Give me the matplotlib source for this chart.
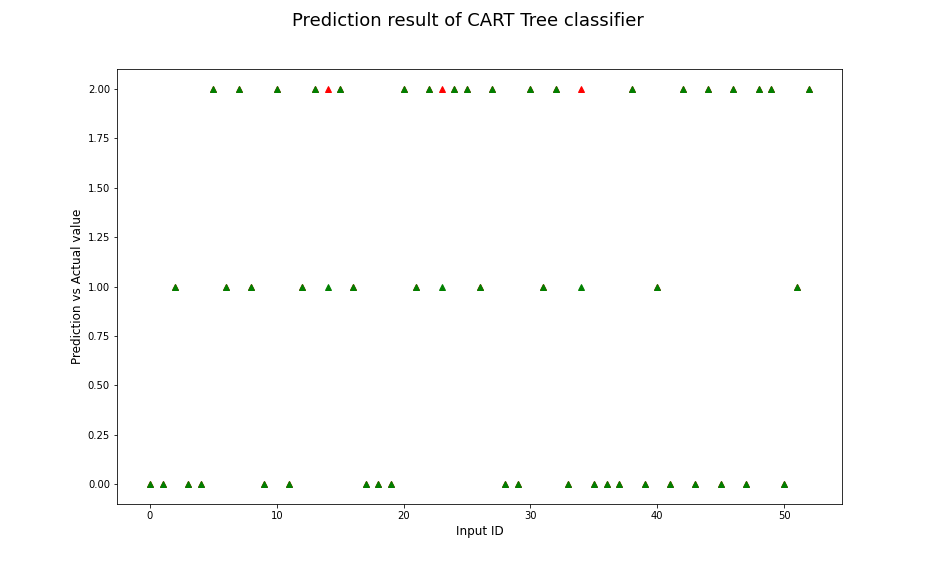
import matplotlib
matplotlib.use("Agg")
import matplotlib.pyplot as plt

input_id = list(range(53))
actual = [0, 0, 1, 0, 0, 2, 1, 2, 1, 0,
          2, 0, 1, 2, 1, 2, 1, 0, 0, 0,
          2, 1, 2, 1, 2, 2, 1, 2, 0, 0,
          2, 1, 2, 0, 1, 0, 0, 0, 2, 0,
          1, 0, 2, 0, 2, 0, 2, 0, 2, 2,
          0, 1, 2]
predicted = [0, 0, 1, 0, 0, 2, 1, 2, 1, 0,
             2, 0, 1, 2, 2, 2, 1, 0, 0, 0,
             2, 1, 2, 2, 2, 2, 1, 2, 0, 0,
             2, 1, 2, 0, 2, 0, 0, 0, 2, 0,
             1, 0, 2, 0, 2, 0, 2, 0, 2, 2,
             0, 1, 2]

fig = plt.figure(figsize=(13, 8), dpi=72)
ax = fig.add_subplot(111)
fig.subplots_adjust(left=0.125, right=0.9, bottom=0.125, top=0.88)
ax.plot(input_id, predicted, 'r^', linestyle='none')
ax.plot(input_id, actual, 'g^', linestyle='none')
fig.suptitle("Prediction result of CART Tree classifier", fontsize=18)
ax.set_xlabel("Input ID", fontsize=12)
ax.set_ylabel("Prediction vs Actual value", fontsize=12)
fig.savefig("out.png", dpi=72)
